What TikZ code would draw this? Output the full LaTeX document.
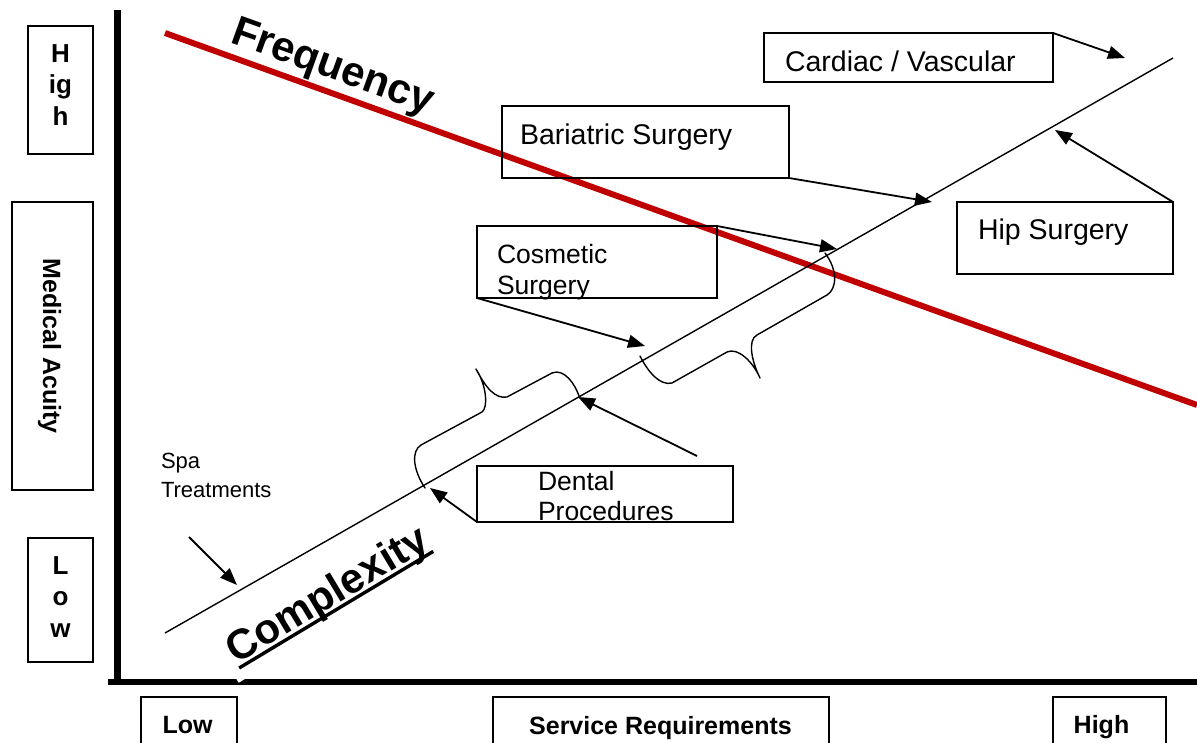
\documentclass[tikz,border=0pt]{standalone}
\usepackage{fontspec}
\setmainfont{Liberation Sans}
\usetikzlibrary{arrows.meta}
\definecolor{freqred}{RGB}{192,0,0}
\newcommand\myuline[1]{\setbox0\hbox{#1}\rlap{\rule[-6pt]{\wd0}{3.4pt}}\box0}
\begin{document}
\begin{tikzpicture}[x=1pt,y=-1pt,
  box/.style={draw, line width=1.8pt, inner sep=0pt, outer sep=0pt, anchor=north west},
  lbl/.style={inner sep=0pt, outer sep=0pt},
  reg/.style={lbl, font=\fontsize{28.5}{34}\selectfont},
  small/.style={lbl, font=\fontsize{26.5}{31}\selectfont, align=left, anchor=north west},
  axlbl/.style={lbl, font=\bfseries\fontsize{25}{30}\selectfont, anchor=base},
  stack/.style={lbl, font=\bfseries\fontsize{26}{31.5}\selectfont, align=center, anchor=north},
  conn/.style={line width=1.8pt, -{Triangle[length=17pt,width=13pt]}},
  diag/.style={line width=1.4pt},
  brace/.style={line width=1.4pt, line join=round, line cap=round},
  bigtitle/.style={lbl, font=\bfseries\fontsize{42}{50}\selectfont, anchor=base}]
\useasboundingbox (0,0) rectangle (1197,743);
\clip (0,0) rectangle (1197,743);

% axes
\draw[line width=7pt] (117,10) -- (117,684.5);
\draw[line width=5.5pt] (108,682) -- (1197,682);

% Complexity label (white background cuts the axis)
\node[bigtitle, fill=white, inner sep=8pt, rotate=31] (cplx) at (334,606) {\myuline{Complexity}};

% left boxes
\node[box, minimum width=65pt, minimum height=128pt] (highbox) at (28,26) {};
\node[stack] (hightxt) at (60.5,44.4) {H\\ig\\h};
\node[box, minimum width=81pt, minimum height=288pt] (medbox) at (12,202) {};
\node[lbl, font=\bfseries\fontsize{25}{30}\selectfont, rotate=-90, anchor=base] (medtxt) at (43,346) {Medical Acuity};
\node[box, minimum width=65pt, minimum height=124pt] (lowbox) at (28,538) {};
\node[stack] (lowtxt) at (60.5,556.4) {L\\o\\w};

% bottom boxes
\node[box, minimum width=96pt, minimum height=70pt] (lowxbox) at (141,697) {};
\node[axlbl] (lowxtxt) at (187.5,733) {Low};
\node[box, minimum width=336pt, minimum height=70pt] (servbox) at (493,697) {};
\node[axlbl] (servtxt) at (660.5,734) {Service Requirements};
\node[box, minimum width=113pt, minimum height=70pt] (highxbox) at (1053,697) {};
\node[axlbl] (highxtxt) at (1101.5,733) {High};

% frequency line and label
\coordinate (fr1) at (165,33);
\coordinate (fr2) at (1197,405);
\draw[freqred, line width=6pt] (fr1) -- (fr2);
\node[bigtitle, rotate=-19.8] (freq) at (329,78) {Frequency};

% complexity line
\coordinate (cl1) at (165,633);
\coordinate (cl2) at (1173,58);
\draw[diag] (cl1) -- (cl2);

% boxes in the chart
\node[box, minimum width=289pt, minimum height=49pt] (cardbox) at (764,33) {};
\node[reg, anchor=base west] (cardtxt) at (785,72) {Cardiac / Vascular};
\node[box, minimum width=287pt, minimum height=72pt] (barbox) at (502,106) {};
\node[reg, anchor=base west] (bartxt) at (520,145) {Bariatric Surgery};
\node[box, minimum width=216pt, minimum height=72pt] (hipbox) at (957,202) {};
\node[reg, anchor=base west] (hiptxt) at (978,240) {Hip Surgery};
\node[box, minimum width=240pt, minimum height=72pt] (cosbox) at (477,226) {};
\node[small] (costxt) at (497,244) {Cosmetic\\Surgery};
\node[box, minimum width=256pt, minimum height=56pt] (denbox) at (477,466) {};
\node[small, font=\fontsize{26.5}{30}\selectfont] (dentxt) at (538,471) {Dental\\Procedures};
\node[lbl, font=\fontsize{22}{29}\selectfont, align=left, anchor=north west] (spatxt) at (161,453.5) {Spa\\Treatments};

% arrow targets
\coordinate (cardtip) at (1125,58);
\coordinate (bartip) at (932,202);
\coordinate (hiptip) at (1055,130);
\coordinate (costip1) at (837,249);
\coordinate (costip2) at (645,346);
\coordinate (dentfrom) at (697,456);
\coordinate (dentip1) at (578,397);
\coordinate (dentip2) at (430,488);
\coordinate (spafrom) at (189,537);
\coordinate (spatip) at (237,585);

\draw[conn] (cardbox.north east) -- (cardtip);
\draw[conn] (barbox.south east) -- (bartip);
\draw[conn] (hipbox.north east) -- (hiptip);
\draw[conn] (cosbox.north east) -- (costip1);
\draw[conn] (cosbox.south west) -- (costip2);
\draw[conn] (dentfrom) -- (dentip1);
\draw[conn] (denbox.south west) -- (dentip2);
\draw[conn] (spafrom) -- (spatip);

% braces
\draw[brace] (425,488) .. controls (413,470) and (411,451) .. (421,445)
  -- (482,412) .. controls (488,408) and (487,386) .. (476,369)
  .. controls (486,388) and (495,399) .. (507,397)
  -- (552,373) .. controls (564,368) and (575,384) .. (579,396);
\draw[brace] (640,356) .. controls (648,372) and (660,386) .. (672,383)
  -- (727,352) .. controls (738,347) and (753,362) .. (760,378)
  .. controls (752,362) and (747,340) .. (757,335)
  -- (827,295) .. controls (837,289) and (838,270) .. (825,253);
\end{tikzpicture}
\end{document}
